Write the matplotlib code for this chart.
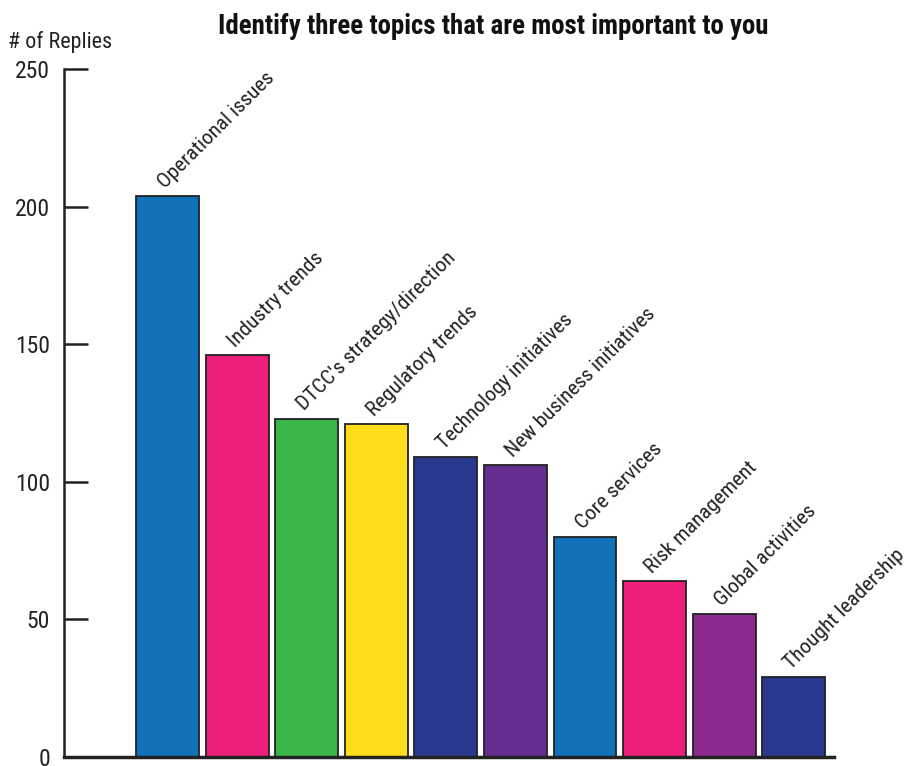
import matplotlib
matplotlib.use("Agg")
import matplotlib.pyplot as plt
from matplotlib import font_manager

categories = ["Operational issues", "Industry trends", "DTCC's strategy/direction",
              "Regulatory trends", "Technology initiatives", "New business initiatives",
              "Core services", "Risk management", "Global activities", "Thought leadership"]
values = [204, 146, 123, 121, 109, 106, 80, 64, 52, 29]
colors = ["#1172BA", "#EE1F7A", "#3AB54A", "#FFDD1A", "#2A3990",
          "#652D90", "#1172BA", "#EE1F7A", "#8D2A8E", "#2A3990"]
yticks = [0, 50, 100, 150, 200, 250]

fl = font_manager.fontManager.ttflist
names = {f.name for f in fl}
scale = 1.0
if "Roboto Condensed" in names:
    fam = ["Roboto Condensed", "DejaVu Sans"]
    scale = 1.1
elif "Liberation Sans Narrow" in names:
    fam = ["Liberation Sans Narrow", "DejaVu Sans"]
    scale = 1.12
else:
    fam = ["Liberation Sans", "DejaVu Sans"]
    scale = 1.0
plt.rcParams["font.family"] = fam

fig = plt.figure(figsize=(9.09, 7.66), dpi=100)
ax = fig.add_axes([64/909, 9/766, (834-64)/909, (757-69)/766])

x = list(range(len(values)))
ax.bar(x, values, width=0.905, color=colors, edgecolor="#222222", linewidth=1.3, zorder=2)
ax.set_xlim(-1.49, 9.58)
ax.set_ylim(0, 250)
ax.set_yticks(yticks)
ax.set_xticks([])
ax.tick_params(axis="y", direction="in", length=17, width=1.8, color="#222222",
               labelsize=15.5 * scale, pad=10, labelcolor="#222222")
for s in ["top", "right"]:
    ax.spines[s].set_visible(False)
ax.spines["left"].set_linewidth(1.8)
ax.spines["bottom"].set_linewidth(2.5)
ax.spines["left"].set_color("#222222")
ax.spines["bottom"].set_color("#222222")

for xi, v, lab in zip(x, values, categories):
    ax.text(xi - 0.03, v + 2.5, lab, rotation=45, rotation_mode="anchor",
            ha="left", va="baseline", fontsize=13.9 * scale, color="#222222")

fig.text(8/909, 1 - 42/766, "# of Replies", fontsize=14.5 * scale, ha="left", va="center", color="#222222")
fig.text(493/909, 1 - 26/766, "Identify three topics that are most important to you",
         fontsize=17.6 * scale, fontweight="bold", ha="center", va="center", color="#111111")

fig.savefig("out.png", dpi=100)
